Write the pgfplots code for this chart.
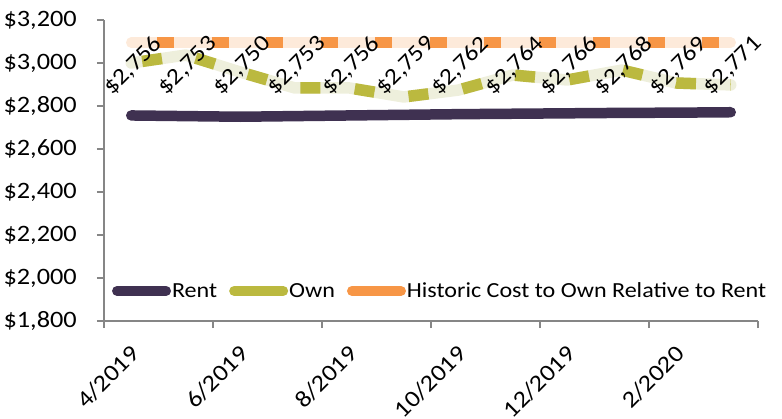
\documentclass[border=0pt]{standalone}
\usepackage{pgfplots}
\pgfplotsset{compat=1.18}
\usepackage{fontspec}
\setmainfont{Carlito}[FakeStretch=1.12]
\definecolor{rentc}{HTML}{3F3151}
\definecolor{ownc}{HTML}{BBB93F}
\definecolor{ownl}{HTML}{EEEFDC}
\definecolor{histc}{HTML}{F79646}
\definecolor{histl}{HTML}{FDEADA}
\definecolor{axc}{HTML}{868686}
\newcommand\tfont{\fontsize{23.5}{27}\selectfont}
\newcommand\lfont{\fontsize{21.5}{25}\selectfont}
\newcommand\dfont{\fontsize{23}{27}\selectfont}
\begin{document}
\begin{tikzpicture}
\begin{axis}[
  at={(0pt,0pt)}, anchor=south west, scale only axis,
  width=654pt, height=301pt,
  xmin=-0.5, xmax=11.5, ymin=1800, ymax=3200,
  axis lines=left, axis line style={-, draw=axc, line width=1.3pt},
  /pgf/number format/assume math mode=true,
  tick style={draw=axc, line width=1.3pt},
  major tick length=7pt, tick align=outside,
  ytick={1800,2000,...,3200},
  yticklabel={\$\pgfmathprintnumber[1000 sep={,}]{\tick}},
  yticklabel style={font=\tfont, anchor=east, inner sep=0pt, xshift=-20pt},
  xtick={-0.5,1.5,3.5,5.5,7.5,9.5,11.5},
  xticklabels={,,,,,,},
  extra x ticks={0,2,4,6,8,10},
  extra x tick labels={4/2019,6/2019,8/2019,10/2019,12/2019,2/2020},
  extra x tick style={tick style={draw=none}, xticklabel style={font=\tfont, xshift=4pt, yshift=-22pt, rotate=45, anchor=east, inner sep=0pt}},
  clip=false,
  legend columns=3,
  legend style={at={(0.012,0.1)}, anchor=west, draw=none, fill=none, font=\lfont, inner sep=0pt,
    nodes={inner sep=1pt},
    /tikz/every even column/.append style={column sep=11pt}},
  legend image code/.code={\draw[#1, line cap=round] (0pt,0pt) -- (49pt,0pt);},
]
\addlegendimage{rentc, line width=10pt}
\addlegendentry{Rent}
\addlegendimage{ownc, line width=10pt}
\addlegendentry{Own}
\addlegendimage{histc, line width=10pt}
\addlegendentry{Historic Cost to Own Relative to Rent}

% Historic
\addplot[forget plot, histl, line width=10.5pt, line cap=round] coordinates {
(0,3095) (1,3095) (2,3095) (3,3095) (4,3095) (5,3095) (6,3095) (7,3095) (8,3095) (9,3095) (10,3095) (11,3095)};
\addplot[forget plot, histc, line width=10.5pt, dash pattern=on 17pt off 37.5pt, dash phase=28.5pt] coordinates {
(0,3095) (1,3095) (2,3095) (3,3095) (4,3095) (5,3095) (6,3095) (7,3095) (8,3095) (9,3095) (10,3095) (11,3095)};
% Own
\addplot[forget plot, ownl, line width=11.5pt, line cap=round, line join=round] coordinates {
(0,3000) (1,3037) (2,2958) (3,2884) (4,2884) (5,2842) (6,2874) (7,2944) (8,2921) (9,2967) (10,2907) (11,2898)};
\addplot[forget plot, ownc, line width=11.5pt, line join=round, dash pattern=on 20pt off 34.5pt, dash phase=43.5pt] coordinates {
(0,3000) (1,3037) (2,2958) (3,2884) (4,2884) (5,2842) (6,2874) (7,2944) (8,2921) (9,2967) (10,2907) (11,2898)};
% Rent
\addplot[forget plot, rentc, line width=10.5pt, line cap=round, line join=round] coordinates {
(0,2756) (1,2753) (2,2750) (3,2753) (4,2756) (5,2759) (6,2762) (7,2764) (8,2766) (9,2768) (10,2769) (11,2771)};
% data labels of Rent
\addplot[forget plot, draw=none, mark=none, point meta=explicit,
  nodes near coords={\$\pgfmathprintnumber[1000 sep={,}]{\pgfplotspointmeta}},
  every node near coord/.append style={xshift=2pt, yshift=-5pt, rotate=45, anchor=center, font=\dfont, inner sep=0pt}]
coordinates {
(0,3010) [2756] (1,3010) [2753] (2,3010) [2750] (3,3010) [2753] (4,3010) [2756] (5,3010) [2759]
(6,3010) [2762] (7,3010) [2764] (8,3010) [2766] (9,3010) [2768] (10,3010) [2769] (11,3010) [2771]};
\end{axis}
\pgfresetboundingbox
\path (-104pt,-97pt) rectangle (678pt,321pt);
\end{tikzpicture}
\end{document}
